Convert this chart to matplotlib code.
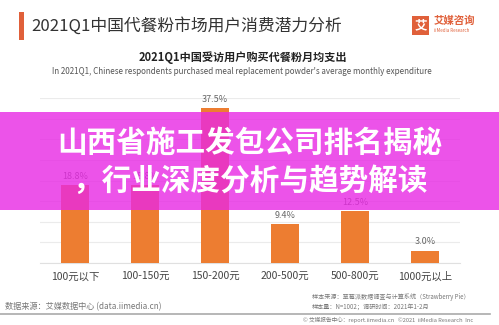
import matplotlib
matplotlib.use("Agg")
import matplotlib.pyplot as plt
from matplotlib.patches import Rectangle

plt.rcParams['font.family'] = ['Noto Sans CJK SC', 'DejaVu Sans']

# Data
categories = ["100元以下", "100-150元", "150-200元", "200-500元", "500-800元", "1000元以上"]
shares = [18.8, 18.8, 37.5, 9.4, 12.5, 3.0]
value_labels = ["18.8%", "18.8%", "37.5%", "9.4%", "12.5%", "3.0%"]
y_ticks = [0, 5, 10, 15, 20, 25, 30, 35, 40]

title = "2021Q1中国代餐粉市场用户消费潜力分析"
subtitle = "2021Q1中国受访用户购买代餐粉月均支出"
subtitle_en = "In 2021Q1, Chinese respondents purchased meal replacement powder's average monthly expenditure"
banner_lines = ["山西省施工发包公司排名揭秘", "，行业深度分析与趋势解读"]

W, H = 499, 325
fig = plt.figure(figsize=(W / 100, H / 100), dpi=100)
fig.patch.set_facecolor("white")

def fx(px):
    return px / W

def fy(py):
    return 1 - py / H

# Header
fig.patches.append(Rectangle((fx(19), fy(40)), fx(5), 28 / H, transform=fig.transFigure,
                             facecolor="#E0603A", edgecolor="none"))
fig.text(fx(31), fy(26), title, fontsize=12.1, color="#333333", va="center", ha="left")

# Logo
fig.patches.append(Rectangle((fx(412), fy(35)), fx(17), 19 / H, transform=fig.transFigure,
                             facecolor="#E0603A", edgecolor="none"))
fig.text(fx(420.5), fy(25.5), "艾", fontsize=9, color="white", fontweight="bold",
         ha="center", va="center")
fig.text(fx(434), fy(21), "艾媒咨询", fontsize=7.5, color="#E0603A", fontweight="bold",
         ha="left", va="center")
fig.text(fx(434), fy(31), "iiMedia Research", fontsize=3.2, color="#E0603A",
         ha="left", va="center")

fig.text(fx(243), fy(57), subtitle, fontsize=8.0, color="#222222", fontweight="bold",
         ha="center", va="center")
fig.text(fx(242), fy(72), subtitle_en, fontsize=5.8, color="#555555",
         ha="center", va="center")

# Bar chart
ax = fig.add_axes([fx(40), fy(263), fx(420), 165 / H])
x = list(range(len(categories)))
ax.bar(x, shares, width=0.39, color="#ED7D31", zorder=3)
for xi, v, lab in zip(x, shares, value_labels):
    ax.text(xi, v + 1.0, lab, ha="center", va="bottom", fontsize=6.5, color="#666666")
ax.set_xlim(-0.5, len(categories) - 0.5)
ax.set_ylim(0, 40)
ax.set_yticks(y_ticks)
ax.yaxis.grid(True, color="#EBEBEB", linewidth=0.8, zorder=0)
ax.set_xticks(x)
ax.set_xticklabels(categories, fontsize=7.5, color="#444444")
ax.tick_params(axis="x", length=0, pad=6)
ax.tick_params(axis="y", length=0, labelleft=False)
for side in ("top", "right", "left"):
    ax.spines[side].set_visible(False)
ax.spines["bottom"].set_color("#E0E0E0")
ax.spines["bottom"].set_linewidth(0.8)

# Footer
fig.text(fx(5), fy(307), "数据来源：艾媒数据中心 (data.iimedia.cn)", fontsize=5.9,
         color="#777777", ha="left", va="center")
fig.text(fx(312), fy(297), "样本来源：草莓派数据调查与计算系统（Strawberry Pie）", fontsize=4.4,
         color="#777777", ha="left", va="center")
fig.text(fx(312), fy(307), "样本量：N=1002；调研时间：2021年1-2月", fontsize=4.4,
         color="#777777", ha="left", va="center")
fig.lines.append(plt.Line2D([0, fx(490)], [fy(313.5), fy(313.5)], transform=fig.transFigure,
                            color="#AAAAAA", linewidth=1.2))
fig.text(fx(303), fy(319.5), "© 艾媒报告中心：report.iimedia.cn   ©2021  iiMedia Research  Inc",
         fontsize=4.1, color="#777777", ha="left", va="center")

# Banner overlay
fig.patches.append(Rectangle((0, fy(210)), 1, 98 / H, transform=fig.transFigure,
                             facecolor=(232 / 255, 40 / 255, 228 / 255), alpha=0.8,
                             edgecolor="none", zorder=10))
fig.text(fx(250), fy(143), banner_lines[0], fontsize=21.3, color="white", fontweight="heavy",
         ha="center", va="center", zorder=11)
fig.text(fx(250), fy(181), banner_lines[1], fontsize=21.3, color="white", fontweight="heavy",
         ha="center", va="center", zorder=11)

fig.savefig("out.png", dpi=100)
